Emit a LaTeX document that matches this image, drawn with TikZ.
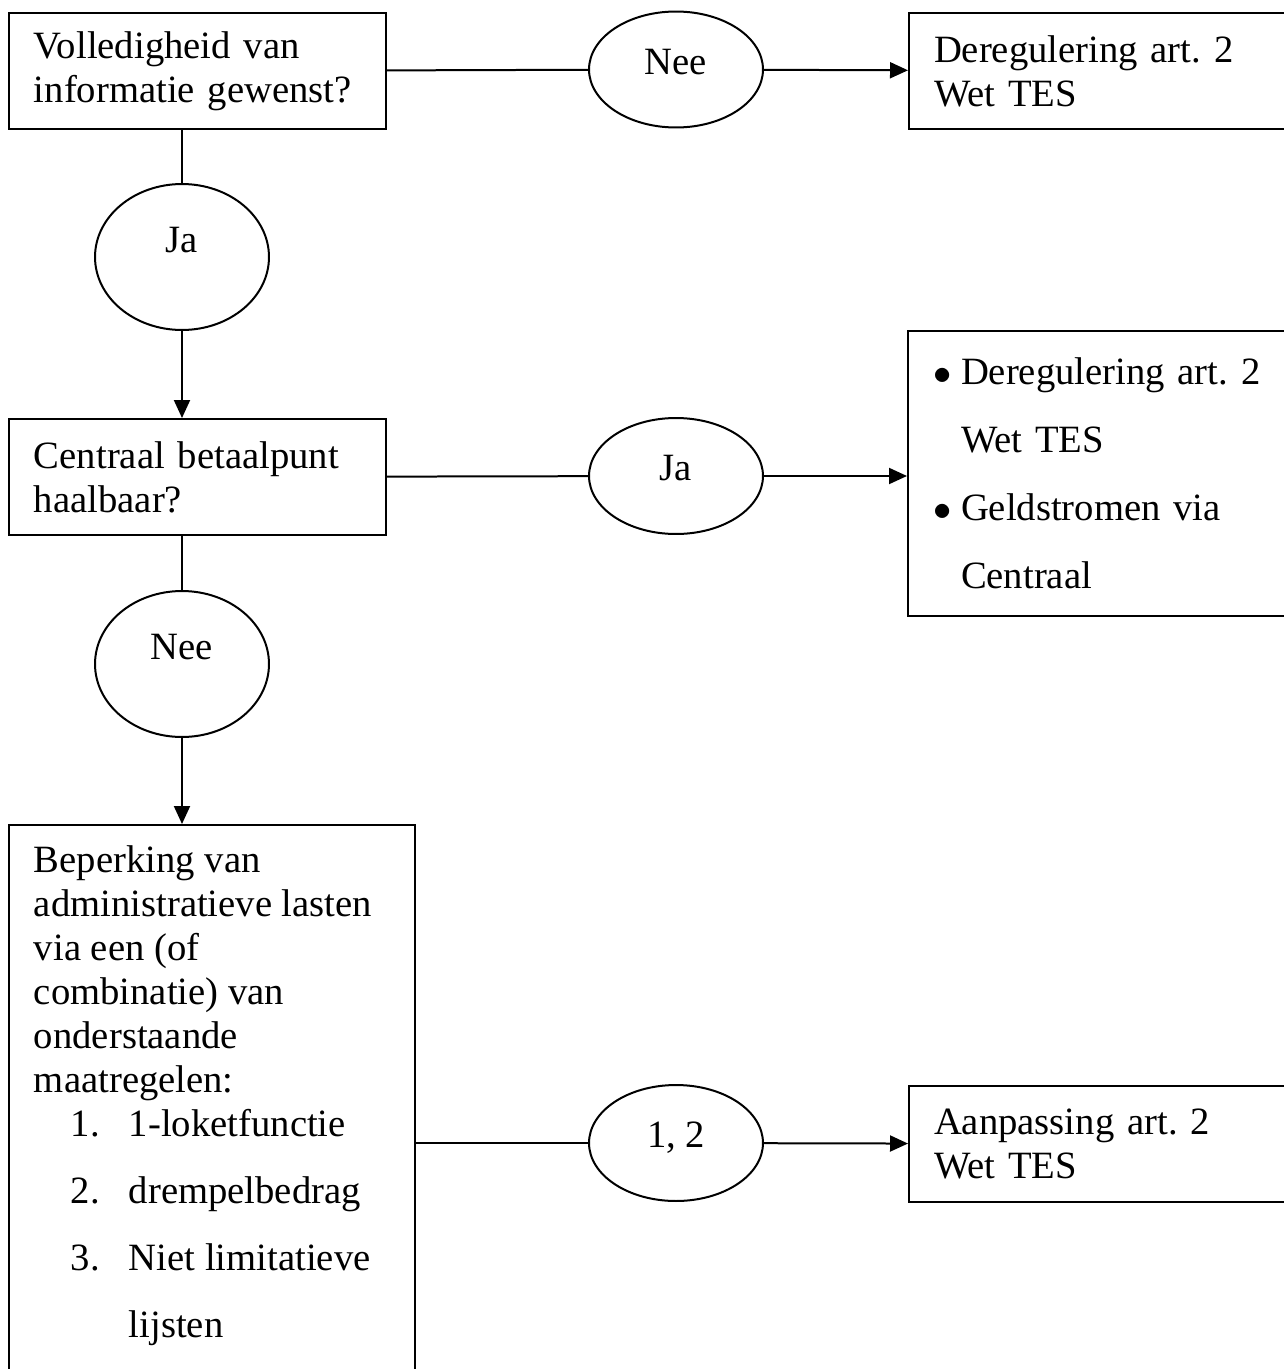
\documentclass[tikz,border=0pt]{standalone}
\usepackage{fontspec}
\setmainfont{Liberation Serif}
\usetikzlibrary{arrows.meta,positioning,calc,shapes.geometric}
\frenchspacing

\begin{document}
\begin{tikzpicture}[x=0.02cm,y=-0.02cm,line width=0.04cm,
  box/.style={draw,rectangle,anchor=north west,align=left,inner xsep=0.5cm,inner ysep=0pt,
    minimum height=2.32cm,font=\fontsize{22pt}{25pt}\selectfont},
  oval/.style={draw,ellipse,inner sep=0pt,minimum width=3.48cm,text height=0.51cm,
    font=\fontsize{22pt}{25pt}\selectfont},
  smalloval/.style={oval,minimum height=2.32cm,text depth=0.32cm},
  bigoval/.style={oval,minimum height=2.92cm,text depth=0.70cm},
  arr/.style={-{Triangle[length=0.36cm,width=0.32cm]}}]
\useasboundingbox (0,0) rectangle (1284,1369);
% question 1
\node[box,text width=6.54cm] (vol) at (8,12) {Volledigheid van\\informatie gewenst?};
\node[smalloval] (nee1) at (676,69.5) {Nee};
\node[box,text width=6.8cm] (dereg) at (908,12) {Deregulering art. 2\\Wet TES};
\draw (vol) -- (nee1);
\draw[arr] (nee1) -- (dereg);
% Ja branch
\node[bigoval] (ja1) at (182,257) {Ja};
\draw (vol.south -| ja1) -- (ja1);
% question 2
\node[box,text width=6.54cm] (cen) at (8,418) {Centraal betaalpunt\\haalbaar?};
\draw[arr] (ja1) -- (ja1 |- cen.north);
\node[smalloval] (ja2) at (676,476) {Ja};
\node[box,text width=6.8cm,minimum height=5.70cm,font=\fontsize{22pt}{38.7pt}\selectfont] (bul) at (907,330)
  {\makebox[0.56cm][l]{$\bullet$}Deregulering art. 2\\\hspace*{0.56cm}Wet TES\\
   \makebox[0.56cm][l]{$\bullet$}Geldstromen via\\\hspace*{0.56cm}Centraal};
\draw (cen) -- (ja2);
\draw[arr] (ja2) -- (ja2 -| bul.west);
% Nee branch
\node[bigoval] (nee2) at (182,664) {Nee};
\draw (cen.south -| nee2) -- (nee2);
% question 3
\node[draw,rectangle,anchor=north west,minimum width=8.12cm,minimum height=11.3cm] (bep) at (8,824) {};
\node[anchor=north west,align=left,inner sep=0pt,font=\fontsize{22pt}{25pt}\selectfont] (beptext) at (33,845)
  {Beperking van\\administratieve lasten\\via een (of\\combinatie) van\\onderstaande\\maatregelen:\\
   \hspace*{0.74cm}\makebox[1.16cm][l]{1.}1-loketfunctie\\[0.46cm]
   \hspace*{0.74cm}\makebox[1.16cm][l]{2.}drempelbedrag\\[0.46cm]
   \hspace*{0.74cm}\makebox[1.16cm][l]{3.}Niet limitatieve\\[0.46cm]
   \hspace*{1.9cm}lijsten};
\draw[arr] (nee2) -- (nee2 |- bep.north);
\node[smalloval] (een2) at (676,1143) {1, 2};
\node[box,text width=6.8cm] (aanp) at (908,1085) {Aanpassing art. 2\\Wet TES};
\draw (bep.east |- een2) -- (een2);
\draw[arr] (een2) -- (aanp);
\end{tikzpicture}
\end{document}
